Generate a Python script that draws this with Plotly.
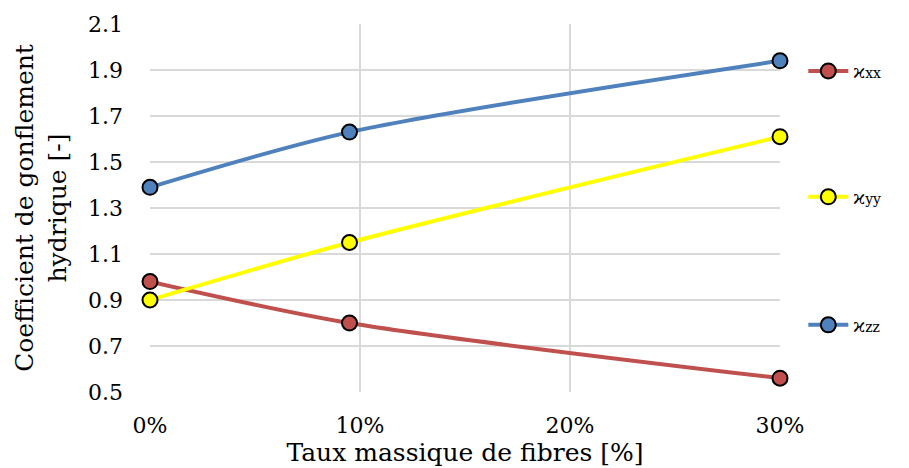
import plotly.graph_objects as go

# Fibre mass fraction [%] and hydric swelling coefficients
taux_fibres = [0, 9.5, 30]
chi_xx = [0.98, 0.80, 0.56]
chi_yy = [0.90, 1.15, 1.61]
chi_zz = [1.39, 1.63, 1.94]

x_ticks = [0, 10, 20, 30]
y_ticks = [0.5, 0.7, 0.9, 1.1, 1.3, 1.5, 1.7, 1.9, 2.1]

series = [
    ("ϰ<span style='font-size:14px'>xx</span>", chi_xx, "#c0504d", "legend"),
    ("ϰ<span style='font-size:14px'>yy</span>", chi_yy, "#ffff00", "legend2"),
    ("ϰ<span style='font-size:14px'>zz</span>", chi_zz, "#4f81bd", "legend3"),
]

FONT = "DejaVu Serif"

fig = go.Figure()
for name, vals, color, leg in series:
    fig.add_trace(go.Scatter(
        x=taux_fibres, y=vals, name=name, legend=leg, showlegend=True,
        mode="lines+markers",
        line=dict(color=color, width=4, shape="spline", smoothing=0.8),
        marker=dict(size=15, color=color, line=dict(color="black", width=2)),
        cliponaxis=False,
    ))

legend_style = dict(
    x=1.037, xanchor="left", yanchor="middle",
    bgcolor="rgba(0,0,0,0)", borderwidth=0,
    font=dict(family=FONT, size=19, color="black"),
    itemwidth=40,
)

fig.update_layout(
    width=909, height=468,
    margin=dict(l=150, r=129, t=24, b=76),
    paper_bgcolor="white", plot_bgcolor="white",
    font=dict(family=FONT, size=22, color="black"),
    showlegend=True,
    legend=dict(y=0.872, **legend_style),
    legend2=dict(y=0.530, **legend_style),
    legend3=dict(y=0.182, **legend_style),
    xaxis=dict(
        range=[0, 30], tickvals=x_ticks, ticktext=[f"{v}%" for v in x_ticks],
        showgrid=True, gridcolor="#d9d9d9", gridwidth=2,
        showline=False, zeroline=False, ticks="", ticklen=0,
        ticklabelstandoff=18,
        tickfont=dict(family=FONT, size=22), automargin=False,
        title=dict(text="Taux massique de fibres [%]", standoff=4,
                   font=dict(family=FONT, size=25)),
    ),
    yaxis=dict(
        range=[0.5, 2.1], tickvals=y_ticks, tickformat=".1f",
        showgrid=True, gridcolor="#d9d9d9", gridwidth=2,
        showline=False, zeroline=False, ticks="", ticklen=0,
        ticklabelstandoff=26,
        tickfont=dict(family=FONT, size=22), automargin=False,
        title=dict(text="Coefficient de gonflement<br>hydrique [-]", standoff=14,
                   font=dict(family=FONT, size=25)),
    ),
)

fig.write_html("out.html")
